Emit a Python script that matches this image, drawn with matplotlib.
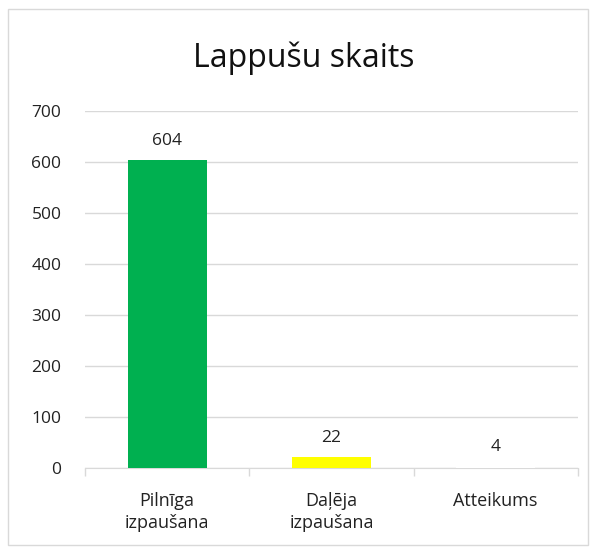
import matplotlib.pyplot as plt
from matplotlib.patches import Rectangle
import numpy as np

plt.rcParams['font.family'] = ['Open Sans', 'DejaVu Sans']

categories = ['Pilnīga\nizpaušana', 'Daļēja\nizpaušana', 'Atteikums']
values = [604, 22, 4]
colors = ['#00B050', '#FFFF00', '#FFFFFF']

fig = plt.figure(figsize=(5.95, 5.54), dpi=100)
ax = fig.add_axes([0.143, 0.155, 0.828, 0.645])

x = np.arange(len(categories))
ax.bar(x, values, width=0.48, color=colors, zorder=3)
for xi, v in zip(x, values):
    ax.text(xi, v + 22, str(v), ha='center', va='bottom', fontsize=12.5, color='#222222')

ax.set_xlim(-0.5, 2.5)
ax.set_ylim(0, 700)
ax.set_yticks(range(0, 701, 100))
ax.yaxis.grid(True, color='#D9D9D9', linewidth=1, zorder=0)
ax.tick_params(axis='y', length=0, labelsize=12.5, pad=17, labelcolor='#222222')

ax.set_xticks(x)
ax.set_xticklabels(categories, fontsize=13, color='#222222', linespacing=1.3)
ax.tick_params(axis='x', length=0, pad=17)
ax.set_xticks([-0.5, 0.5, 1.5, 2.5], minor=True)
ax.tick_params(axis='x', which='minor', length=6, color='#D9D9D9', width=1)

for s in ['top', 'right', 'left']:
    ax.spines[s].set_visible(False)
ax.spines['bottom'].set_color('#D9D9D9')

fig.text(0.51, 0.895, 'Lappušu skaits', ha='center', va='center', fontsize=23, color='#111111')

fig.patches.append(Rectangle((8 / 595, 9 / 554), 580 / 595, 536 / 554, transform=fig.transFigure,
                             fill=False, edgecolor='#D9D9D9', linewidth=1))

fig.savefig('out.png', dpi=100)
